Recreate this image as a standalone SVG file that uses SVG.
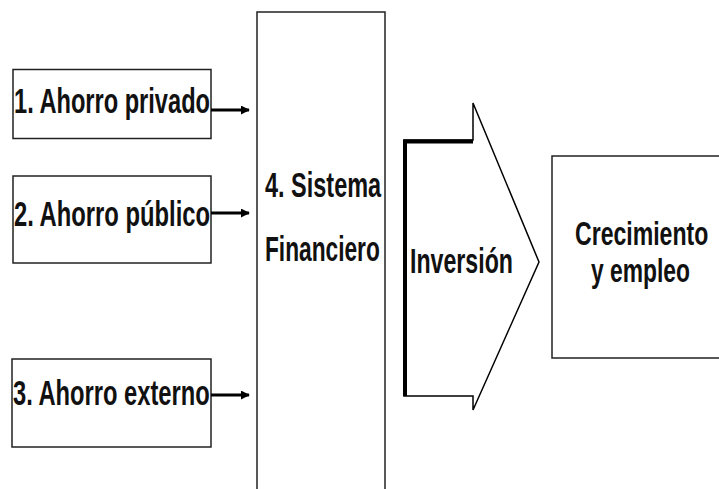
<svg xmlns="http://www.w3.org/2000/svg" width="719" height="489" viewBox="0 0 719 489">
  <style>
    .box { fill: #fff; stroke: #222; stroke-width: 1.5; }
    .lbl { font-family: "Liberation Sans", Arial, sans-serif; font-size: 35px; font-weight: bold; fill: #111; }
    .sm { font-size: 33px; }
    .link { stroke: #000; stroke-width: 3; fill: none; }
  </style>
  <defs>
    <marker id="head" viewBox="0 0 10 10" refX="9" refY="5" markerWidth="3" markerHeight="3" orient="auto" markerUnits="strokeWidth">
      <path d="M0,0 L10,5 L0,10 Z" fill="#000"/>
    </marker>
  </defs>
  <rect width="719" height="489" fill="#fff"/>

  <!-- labels use a condensed face: bold sans squeezed to about 2/3 width -->
  <g id="ahorro-privado">
    <rect class="box" x="13" y="69.5" width="198" height="69"/>
    <text class="lbl" transform="translate(14,113) scale(0.66,1)" textLength="297" lengthAdjust="spacingAndGlyphs">1. Ahorro privado</text>
  </g>
  <g id="ahorro-publico">
    <rect class="box" x="13" y="176" width="198" height="87"/>
    <text class="lbl" transform="translate(14,226) scale(0.66,1)" textLength="297" lengthAdjust="spacingAndGlyphs">2. Ahorro público</text>
  </g>
  <g id="ahorro-externo">
    <rect class="box" x="12" y="359" width="199" height="88"/>
    <text class="lbl" transform="translate(13,405) scale(0.66,1)" textLength="298" lengthAdjust="spacingAndGlyphs">3. Ahorro externo</text>
  </g>

  <g id="sistema-financiero">
    <rect class="box" x="257" y="12" width="128" height="490"/>
    <text class="lbl" transform="translate(265,197) scale(0.66,1)" textLength="176" lengthAdjust="spacingAndGlyphs">4. Sistema</text>
    <text class="lbl" transform="translate(265,261) scale(0.66,1)" textLength="174" lengthAdjust="spacingAndGlyphs">Financiero</text>
  </g>

  <g id="inversion">
    <polygon points="404,140 473,140 473,103 539,262 473,410 473,396 404,396" fill="#fff" stroke="#000" stroke-width="1.5"/>
    <polyline points="405,396 405,141.5 473,141.5" fill="none" stroke="#000" stroke-width="4"/>
    <text class="lbl" transform="translate(410,273) scale(0.66,1)" textLength="156" lengthAdjust="spacingAndGlyphs">Inversión</text>
  </g>

  <g id="crecimiento-empleo">
    <!-- box runs past the right edge, so only three sides are drawn -->
    <rect x="552" y="156" width="167" height="202" fill="#fff"/>
    <path class="box" d="M719,156 H552 V358 H719" fill="none"/>
    <text class="lbl sm" transform="translate(575,245) scale(0.66,1)" textLength="202" lengthAdjust="spacingAndGlyphs">Crecimiento</text>
    <text class="lbl sm" transform="translate(591,282) scale(0.66,1)" textLength="150" lengthAdjust="spacingAndGlyphs">y empleo</text>
  </g>

  <g id="connectors">
    <line class="link" x1="211" y1="110" x2="249" y2="110" marker-end="url(#head)"/>
    <line class="link" x1="211" y1="213" x2="249" y2="213" marker-end="url(#head)"/>
    <line class="link" x1="211" y1="395" x2="249" y2="395" marker-end="url(#head)"/>
  </g>
</svg>
